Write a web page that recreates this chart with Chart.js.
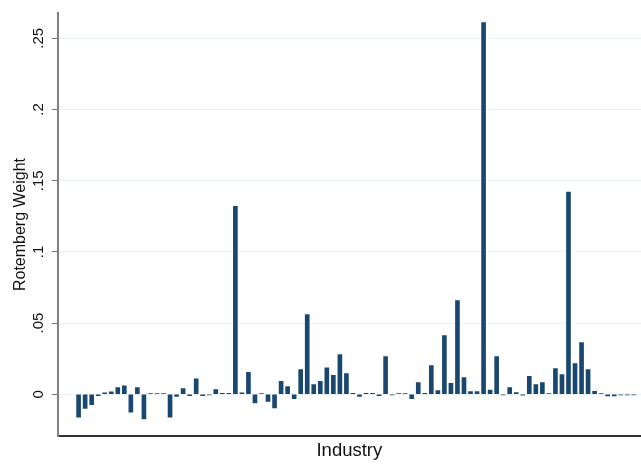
<!DOCTYPE html>
<html>
<head>
<meta charset="utf-8">
<script src="https://cdn.jsdelivr.net/npm/chart.js@4"></script>
<style>
  html, body { margin: 0; padding: 0; background: #fff; }
</style>
</head>
<body>
<canvas id="chart" width="641" height="466"></canvas>
<script>
// Rotemberg weights by industry, in the order they are plotted
const weights = [
  -0.016, -0.010, -0.0073, -0.001, 0.001, 0.0017, 0.0047, 0.0059, -0.0126, 0.0047,
  -0.0173, 0.0005, 0.0005, 0.0005, -0.016, -0.0015, 0.004, -0.001, 0.0108, -0.001,
  -0.0005, 0.0033, 0.0007, 0.0007, 0.132, 0.001, 0.0155, -0.006, 0.0005, -0.005,
  -0.0096, 0.0091, 0.0054, -0.003, 0.0173, 0.056, 0.0068, 0.0091, 0.0185, 0.0133,
  0.0279, 0.0145, 0.0007, -0.0015, 0.0007, 0.0007, -0.001, 0.0265, -0.0005, 0.0005,
  0.0005, -0.003, 0.0082, 0.0007, 0.0201, 0.0026, 0.0412, 0.0077, 0.0658, 0.0117,
  0.0019, 0.0019, 0.261, 0.003, 0.0265, -0.0005, 0.0047, 0.0012, -0.0007, 0.0126,
  0.0068, 0.0082, 0.0005, 0.018, 0.0138, 0.142, 0.0215, 0.0363, 0.0173, 0.002,
  0.0005, -0.0012, -0.0012, -0.0005, -0.0005, -0.0005
];
const yTicks = [0, 0.05, 0.1, 0.15, 0.2, 0.25];
const yTickLabels = ['0', '.05', '.1', '.15', '.2', '.25'];

const font = '"Liberation Sans", Arial, Helvetica, sans-serif';
const points = weights.map((w, i) => ({ x: i + 1, y: w }));

const ctx = document.getElementById('chart').getContext('2d');
new Chart(ctx, {
  type: 'bar',
  data: {
    datasets: [{
      data: points,
      backgroundColor: '#1a476f',
      borderWidth: 0,
      barThickness: 4
    }]
  },
  options: {
    responsive: false,
    animation: false,
    layout: { padding: { top: 13, right: 0, left: 0, bottom: 0 } },
    plugins: {
      legend: { display: false },
      tooltip: { enabled: false }
    },
    scales: {
      x: {
        type: 'linear',
        offset: false,
        min: -2.2,
        max: 87.1,
        grid: { display: false },
        ticks: { display: false },
        border: { display: true, color: '#333', width: 2 },
        title: {
          display: true,
          text: 'Industry',
          color: '#111',
          font: { family: font, size: 18.5 },
          padding: { top: 4, bottom: 4 }
        },
        afterFit: scale => { scale.height = 30; }
      },
      y: {
        min: -0.0293,
        max: 0.2678,
        afterBuildTicks: scale => { scale.ticks = yTicks.map(v => ({ value: v })); },
        grid: {
          color: '#eaf2f3',
          lineWidth: 1,
          tickLength: 6,
          tickColor: '#777',
          tickWidth: 1
        },
        border: { display: true, color: '#808080', width: 2 },
        ticks: {
          color: '#111',
          font: { family: font, size: 15 },
          minRotation: 90,
          maxRotation: 90,
          crossAlign: 'center',
          padding: 2,
          callback: (value) => yTickLabels[yTicks.indexOf(value)] ?? ''
        },
        title: {
          display: true,
          text: 'Rotemberg Weight',
          color: '#111',
          font: { family: font, size: 16 },
          padding: { top: 11, bottom: 0 }
        },
        afterFit: scale => { scale.width = 57.7; }
      }
    }
  }
});
</script>
</body>
</html>
